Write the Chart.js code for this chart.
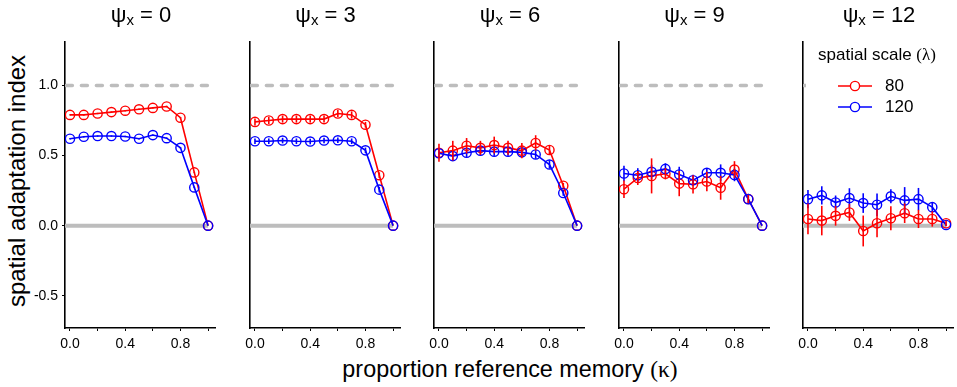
<!DOCTYPE html>
<html>
<head>
<meta charset="utf-8">
<script src="https://cdn.jsdelivr.net/npm/chart.js@4.4.1/dist/chart.umd.min.js"></script>
<style>
  html, body { margin: 0; padding: 0; background: #fff; }
  body { width: 957px; height: 387px; position: relative; overflow: hidden; font-family: "Liberation Sans", Arial, sans-serif; }
  .panel { position: absolute; top: 0; width: 216px; height: 387px; }
  .panel canvas { display: block; }
  .ptitle { position: absolute; top: 2px; width: 152px; text-align: center; font-size: 22px; color: #000; }
  .ptitle sub { font-size: 15px; vertical-align: -3px; }
  .serif { font-family: "Liberation Serif", "Times New Roman", serif; }
  .ytitle { position: absolute; left: 17px; top: 181px; transform: translate(-50%, -50%) rotate(-90deg); font-size: 24px; white-space: nowrap; }
  .xtitle { position: absolute; left: 510px; top: 369px; transform: translate(-50%, -50%); font-size: 24px; white-space: nowrap; }
  .legend { position: absolute; left: 806px; top: 40px; width: 146px; height: 78px; background: #fff; font-size: 17px; }
  .legend .lt { position: absolute; left: 71px; top: 5px; transform: translateX(-50%); white-space: nowrap; }
  .legend .row { position: absolute; left: 30px; height: 20px; }
  .legend .row svg { position: absolute; left: 0; top: 0; }
  .legend .row span { position: absolute; left: 49px; top: 0; }
</style>
</head>
<body>
<div class="ytitle" id="ytitle">spatial adaptation index</div>
<div class="xtitle" id="xtitle">proportion reference memory <span class="serif">(κ)</span></div>
<script>
// x values (proportion reference memory, kappa)
const kappa = [0, 0.1, 0.2, 0.3, 0.4, 0.5, 0.6, 0.7, 0.8, 0.9, 1.0];
const psiValues = ['0', '3', '6', '9', '12'];
const yTickValues = [-0.5, 0, 0.5, 1.0];
const xTickValues = [0, 0.2, 0.4, 0.6, 0.8, 1.0];
const xLabelled = [0, 0.4, 0.8];

// spatial scale lambda = 80 (red), one row per psi panel
const lambda80 = [
  [0.79, 0.79, 0.80, 0.81, 0.82, 0.83, 0.84, 0.85, 0.77, 0.38, 0],
  [0.74, 0.75, 0.76, 0.76, 0.76, 0.76, 0.80, 0.79, 0.72, 0.36, 0],
  [0.52, 0.535, 0.57, 0.555, 0.575, 0.555, 0.535, 0.59, 0.54, 0.285, 0],
  [0.26, 0.34, 0.355, 0.37, 0.30, 0.295, 0.315, 0.27, 0.40, 0.19, 0],
  [0.048, 0.036, 0.07, 0.094, -0.038, 0.017, 0.053, 0.089, 0.048, 0.048, 0.017]
];
const lambda80Err = [
  [0.005, 0.005, 0.005, 0.005, 0.005, 0.005, 0.005, 0.005, 0.005, 0.005, 0],
  [0.025, 0.025, 0.025, 0.025, 0.025, 0.025, 0.025, 0.025, 0.02, 0.02, 0],
  [0.065, 0.07, 0.055, 0.05, 0.06, 0.05, 0.055, 0.055, 0.03, 0.02, 0],
  [0.062, 0.05, 0.125, 0.04, 0.09, 0.065, 0.07, 0.085, 0.06, 0.03, 0],
  [0.11, 0.105, 0.07, 0.06, 0.11, 0.1, 0.085, 0.07, 0.065, 0.055, 0.02]
];

// spatial scale lambda = 120 (blue)
const lambda120 = [
  [0.62, 0.634, 0.639, 0.639, 0.636, 0.62, 0.646, 0.624, 0.555, 0.273, 0],
  [0.602, 0.602, 0.607, 0.602, 0.60, 0.607, 0.609, 0.602, 0.537, 0.257, 0],
  [0.516, 0.496, 0.52, 0.535, 0.528, 0.528, 0.523, 0.508, 0.436, 0.233, 0],
  [0.372, 0.36, 0.384, 0.405, 0.365, 0.324, 0.377, 0.377, 0.362, 0.189, 0],
  [0.189, 0.216, 0.165, 0.197, 0.161, 0.149, 0.209, 0.18, 0.189, 0.132, 0.005]
];
const lambda120Err = [
  [0.005, 0.005, 0.005, 0.005, 0.005, 0.005, 0.005, 0.005, 0.005, 0.005, 0],
  [0.02, 0.02, 0.02, 0.02, 0.02, 0.02, 0.02, 0.02, 0.02, 0.02, 0],
  [0.03, 0.03, 0.03, 0.03, 0.03, 0.03, 0.03, 0.03, 0.03, 0.02, 0],
  [0.055, 0.05, 0.05, 0.04, 0.055, 0.04, 0.035, 0.06, 0.045, 0.03, 0],
  [0.065, 0.065, 0.05, 0.07, 0.07, 0.08, 0.05, 0.095, 0.08, 0.03, 0.01]
];

const RED = '#ff0000';
const BLUE = '#0000ff';
const GREY = '#bdbdbd';
const X_MIN = -0.036, X_MAX = 1.05;
const Y_MIN = -0.73, Y_MAX = 1.31;
const tickFont = { family: '"Liberation Sans", Arial', size: 14 };

// squeeze a title so it is as long as the one in the figure
function fitWidth(el, target, base) {
  const k = (target / el.offsetWidth).toFixed(3);
  el.style.transform = base + ' scaleX(' + k + ')';
}
fitWidth(document.getElementById('ytitle'), 252, 'translate(-50%, -50%) rotate(-90deg)');
fitWidth(document.getElementById('xtitle'), 335, 'translate(-50%, -50%)');

// vertical error bars, drawn from the dataset's err array
const errorBars = {
  id: 'errorBars',
  afterDatasetsDraw(chart) {
    const ctx = chart.ctx;
    const xs = chart.scales.x, ys = chart.scales.y;
    chart.data.datasets.forEach((ds, i) => {
      if (!ds.err || !chart.isDatasetVisible(i)) return;
      ctx.save();
      ctx.strokeStyle = ds.borderColor;
      ctx.lineWidth = 1.6;
      ds.data.forEach((p, j) => {
        const e = ds.err[j];
        if (!e) return;
        const px = xs.getPixelForValue(p.x);
        ctx.beginPath();
        ctx.moveTo(px, ys.getPixelForValue(p.y - e));
        ctx.lineTo(px, ys.getPixelForValue(p.y + e));
        ctx.stroke();
      });
      ctx.restore();
    });
  }
};

function series(label, ys, err, color) {
  return {
    label: label,
    data: kappa.map((k, i) => ({ x: k, y: ys[i] })),
    err: err,
    borderColor: color,
    backgroundColor: 'rgba(0,0,0,0)',
    borderWidth: 1.6,
    pointRadius: 4.6,
    pointBorderWidth: 1.4,
    pointBorderColor: color,
    pointBackgroundColor: 'rgba(0,0,0,0)',
    tension: 0
  };
}

psiValues.forEach((psi, p) => {
  const axisLeft = 65 + p * 184.5;
  const box = document.createElement('div');
  box.className = 'panel';
  box.style.left = (axisLeft - 60) + 'px';
  const canvas = document.createElement('canvas');
  canvas.width = 216;
  canvas.height = 387;
  box.appendChild(canvas);
  document.body.appendChild(box);

  const title = document.createElement('div');
  title.className = 'ptitle';
  title.style.left = axisLeft + 'px';
  title.innerHTML = 'ψ<sub>x</sub> = ' + psi;
  document.body.appendChild(title);

  const showY = p === 0;

  new Chart(canvas, {
    type: 'line',
    data: {
      datasets: [
        series('120', lambda120[p], lambda120Err[p], BLUE),
        series('80', lambda80[p], lambda80Err[p], RED),
        {
          data: [{ x: X_MIN, y: 0 }, { x: 1.0, y: 0 }],
          borderColor: GREY, borderWidth: 4, pointRadius: 0
        },
        {
          data: [{ x: X_MIN + 0.01, y: 1 }, { x: X_MAX, y: 1 }],
          borderColor: GREY, borderWidth: 3.5, pointRadius: 0,
          borderDash: [6, 9], borderCapStyle: 'round'
        }
      ]
    },
    options: {
      responsive: false,
      animation: false,
      devicePixelRatio: 1,
      layout: { padding: { top: 42, right: 4, left: 0, bottom: 0 } },
      plugins: { legend: { display: false }, tooltip: { enabled: false } },
      scales: {
        x: {
          type: 'linear', min: X_MIN, max: X_MAX,
          afterFit(s) { s.height = 59; },
          afterBuildTicks(s) { s.ticks = xTickValues.map(v => ({ value: v })); },
          grid: { display: true, drawOnChartArea: false, tickLength: 3, color: '#000', lineWidth: 1 },
          border: { display: true, color: '#000', width: 1.6 },
          ticks: {
            color: '#000', padding: 5, maxRotation: 0, autoSkip: false, font: tickFont,
            callback: v => xLabelled.some(t => Math.abs(t - v) < 1e-6) ? v.toFixed(1) : ''
          }
        },
        y: {
          type: 'linear', min: Y_MIN, max: Y_MAX,
          afterFit(s) { s.width = 60; },
          afterBuildTicks(s) { s.ticks = yTickValues.map(v => ({ value: v })); },
          grid: { display: showY, drawOnChartArea: false, tickLength: 3, color: '#000', lineWidth: 1 },
          border: { display: true, color: '#000', width: 1.6 },
          ticks: {
            display: showY, color: '#000', padding: 4, font: tickFont,
            callback: v => v.toFixed(1)
          }
        }
      }
    },
    plugins: [errorBars]
  });
});
</script>
<div class="legend">
  <div class="lt">spatial scale <span class="serif">(λ)</span></div>
  <div class="row" style="top:36px">
    <svg width="40" height="20"><line x1="2" y1="10" x2="36" y2="10" stroke="#ff0000" stroke-width="1.6"/><circle cx="19" cy="10" r="4.6" fill="#fff" stroke="#ff0000" stroke-width="1.4"/></svg>
    <span>80</span>
  </div>
  <div class="row" style="top:57px">
    <svg width="40" height="20"><line x1="2" y1="10" x2="36" y2="10" stroke="#0000ff" stroke-width="1.6"/><circle cx="19" cy="10" r="4.6" fill="#fff" stroke="#0000ff" stroke-width="1.4"/></svg>
    <span>120</span>
  </div>
</div>
</body>
</html>
